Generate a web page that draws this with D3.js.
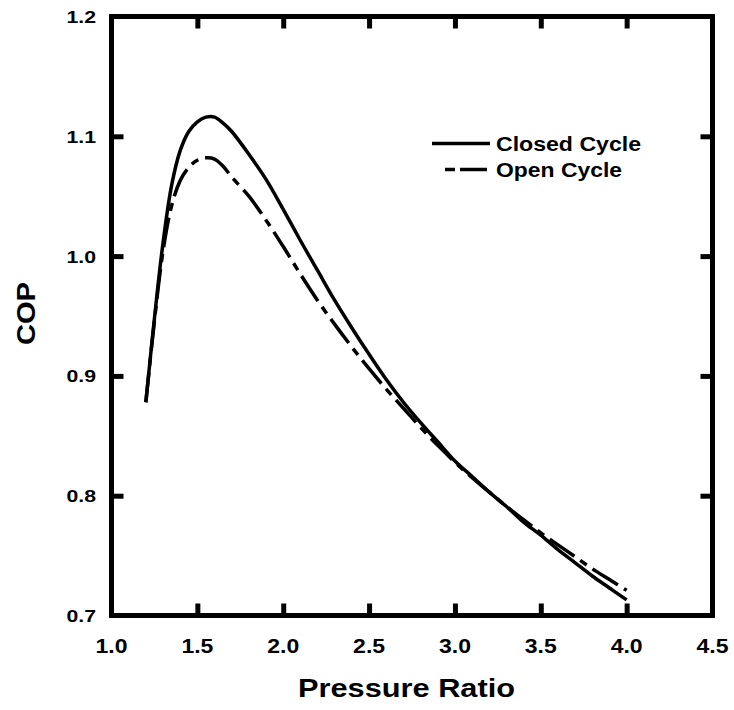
<!DOCTYPE html>
<html>
<head>
<meta charset="utf-8">
<script src="https://cdn.jsdelivr.net/npm/d3@7"></script>
<style>
  html, body { margin: 0; padding: 0; background: #fff; }
  svg { display: block; }
  text { font-family: "Liberation Sans", Arial, sans-serif; font-weight: bold; fill: #000; }
</style>
</head>
<body>
<svg id="chart" width="734" height="710"></svg>
<script>
// Pressure ratio samples
const pressureRatio = [1.20, 1.25, 1.30, 1.35, 1.40, 1.45, 1.50, 1.55, 1.60, 1.65, 1.70,
  1.80, 1.90, 2.00, 2.10, 2.20, 2.30, 2.40, 2.50, 2.60, 2.70, 2.80, 2.90,
  3.00, 3.10, 3.20, 3.30, 3.40, 3.50, 3.60, 3.70, 3.80, 3.90, 4.00];

// COP of the closed cycle
const closedCOP = [0.878, 0.948, 1.011, 1.059, 1.088, 1.104, 1.112, 1.116, 1.116, 1.111, 1.104,
  1.085, 1.064, 1.039, 1.013, 0.988, 0.963, 0.940, 0.918, 0.897, 0.878, 0.861, 0.845,
  0.829, 0.816, 0.803, 0.791, 0.778, 0.767, 0.755, 0.744, 0.733, 0.723, 0.713];

// COP of the open cycle
const openCOP = [0.878, 0.946, 1.004, 1.042, 1.063, 1.074, 1.080, 1.082, 1.081, 1.075, 1.066,
  1.050, 1.030, 1.008, 0.985, 0.963, 0.943, 0.924, 0.906, 0.889, 0.873, 0.857, 0.842,
  0.828, 0.815, 0.803, 0.791, 0.780, 0.769, 0.759, 0.749, 0.739, 0.730, 0.721];

const xTicks = [1.0, 1.5, 2.0, 2.5, 3.0, 3.5, 4.0, 4.5];
const yTicks = [0.7, 0.8, 0.9, 1.0, 1.1, 1.2];
const seriesNames = ["Closed Cycle", "Open Cycle"];

const svg = d3.select("#chart");
const plotL = 111.5, plotR = 712.5, plotT = 16.5, plotB = 615.5;

const x = d3.scaleLinear().domain([1.0, 4.5]).range([plotL, plotR]);
const y = d3.scaleLinear().domain([0.7, 1.2]).range([plotB, plotT]);

const fmt = d3.format(".1f");
const innerX = xTicks.slice(1, -1);
const innerY = yTicks.slice(1, -1);

// inward tick marks on all four sides
function styleTicks(g) {
  g.select(".domain").remove();
  g.selectAll(".tick line").attr("stroke", "#000").attr("stroke-width", 5);
  g.selectAll(".tick text").remove();
}
svg.append("g").attr("transform", `translate(0,${plotB})`)
  .call(d3.axisBottom(x).tickValues(innerX).tickSize(-12)).call(styleTicks);
svg.append("g").attr("transform", `translate(0,${plotT})`)
  .call(d3.axisTop(x).tickValues(innerX).tickSize(-12)).call(styleTicks);
svg.append("g").attr("transform", `translate(${plotL},0)`)
  .call(d3.axisLeft(y).tickValues(innerY).tickSize(-12)).call(styleTicks);
svg.append("g").attr("transform", `translate(${plotR},0)`)
  .call(d3.axisRight(y).tickValues(innerY).tickSize(-12)).call(styleTicks);

// tick labels
svg.append("g").selectAll("text").data(xTicks).join("text")
  .attr("text-anchor", "middle")
  .attr("font-size", 20)
  .attr("transform", d => `translate(${x(d)},${plotB + 37}) scale(1.15,1)`)
  .text(fmt);
svg.append("g").selectAll("text").data(yTicks).join("text")
  .attr("text-anchor", "end")
  .attr("font-size", 17)
  .attr("transform", d => `translate(${96},${y(d) + 6.5}) scale(1.25,1)`)
  .text(fmt);

// curves
const line = d3.line().x(d => x(d[0])).y(d => y(d[1])).curve(d3.curveCatmullRom.alpha(0.5));

svg.append("path")
  .datum(pressureRatio.map((p, i) => [p, openCOP[i]]))
  .attr("d", line)
  .attr("fill", "none").attr("stroke", "#000").attr("stroke-width", 3.5)
  .attr("stroke-dasharray", "30,7,8,7");

svg.append("path")
  .datum(pressureRatio.map((p, i) => [p, closedCOP[i]]))
  .attr("d", line)
  .attr("fill", "none").attr("stroke", "#000").attr("stroke-width", 3.5)
  .attr("stroke-linejoin", "round");

// frame
svg.append("rect")
  .attr("x", plotL).attr("y", plotT)
  .attr("width", plotR - plotL).attr("height", plotB - plotT)
  .attr("fill", "none").attr("stroke", "#000").attr("stroke-width", 5);

// legend
const legend = svg.append("g");
legend.append("line").attr("x1", 432).attr("x2", 490).attr("y1", 143.5).attr("y2", 143.5)
  .attr("stroke", "#000").attr("stroke-width", 3.5);
legend.append("line").attr("x1", 445).attr("x2", 455).attr("y1", 169.5).attr("y2", 169.5)
  .attr("stroke", "#000").attr("stroke-width", 3.5);
legend.append("line").attr("x1", 460).attr("x2", 487).attr("y1", 169.5).attr("y2", 169.5)
  .attr("stroke", "#000").attr("stroke-width", 3.5);
legend.append("text").attr("x", 496).attr("y", 150.5).attr("font-size", 19.5)
  .attr("textLength", 145).attr("lengthAdjust", "spacingAndGlyphs").text(seriesNames[0]);
legend.append("text").attr("x", 496).attr("y", 177).attr("font-size", 19.5)
  .attr("textLength", 126).attr("lengthAdjust", "spacingAndGlyphs").text(seriesNames[1]);

// axis titles
svg.append("text").attr("x", 298).attr("y", 697).attr("font-size", 25)
  .attr("textLength", 217).attr("lengthAdjust", "spacingAndGlyphs").text("Pressure Ratio");
svg.append("text")
  .attr("transform", "translate(35,345) rotate(-90)")
  .attr("font-size", 25)
  .attr("textLength", 63).attr("lengthAdjust", "spacingAndGlyphs").text("COP");
</script>
</body>
</html>
